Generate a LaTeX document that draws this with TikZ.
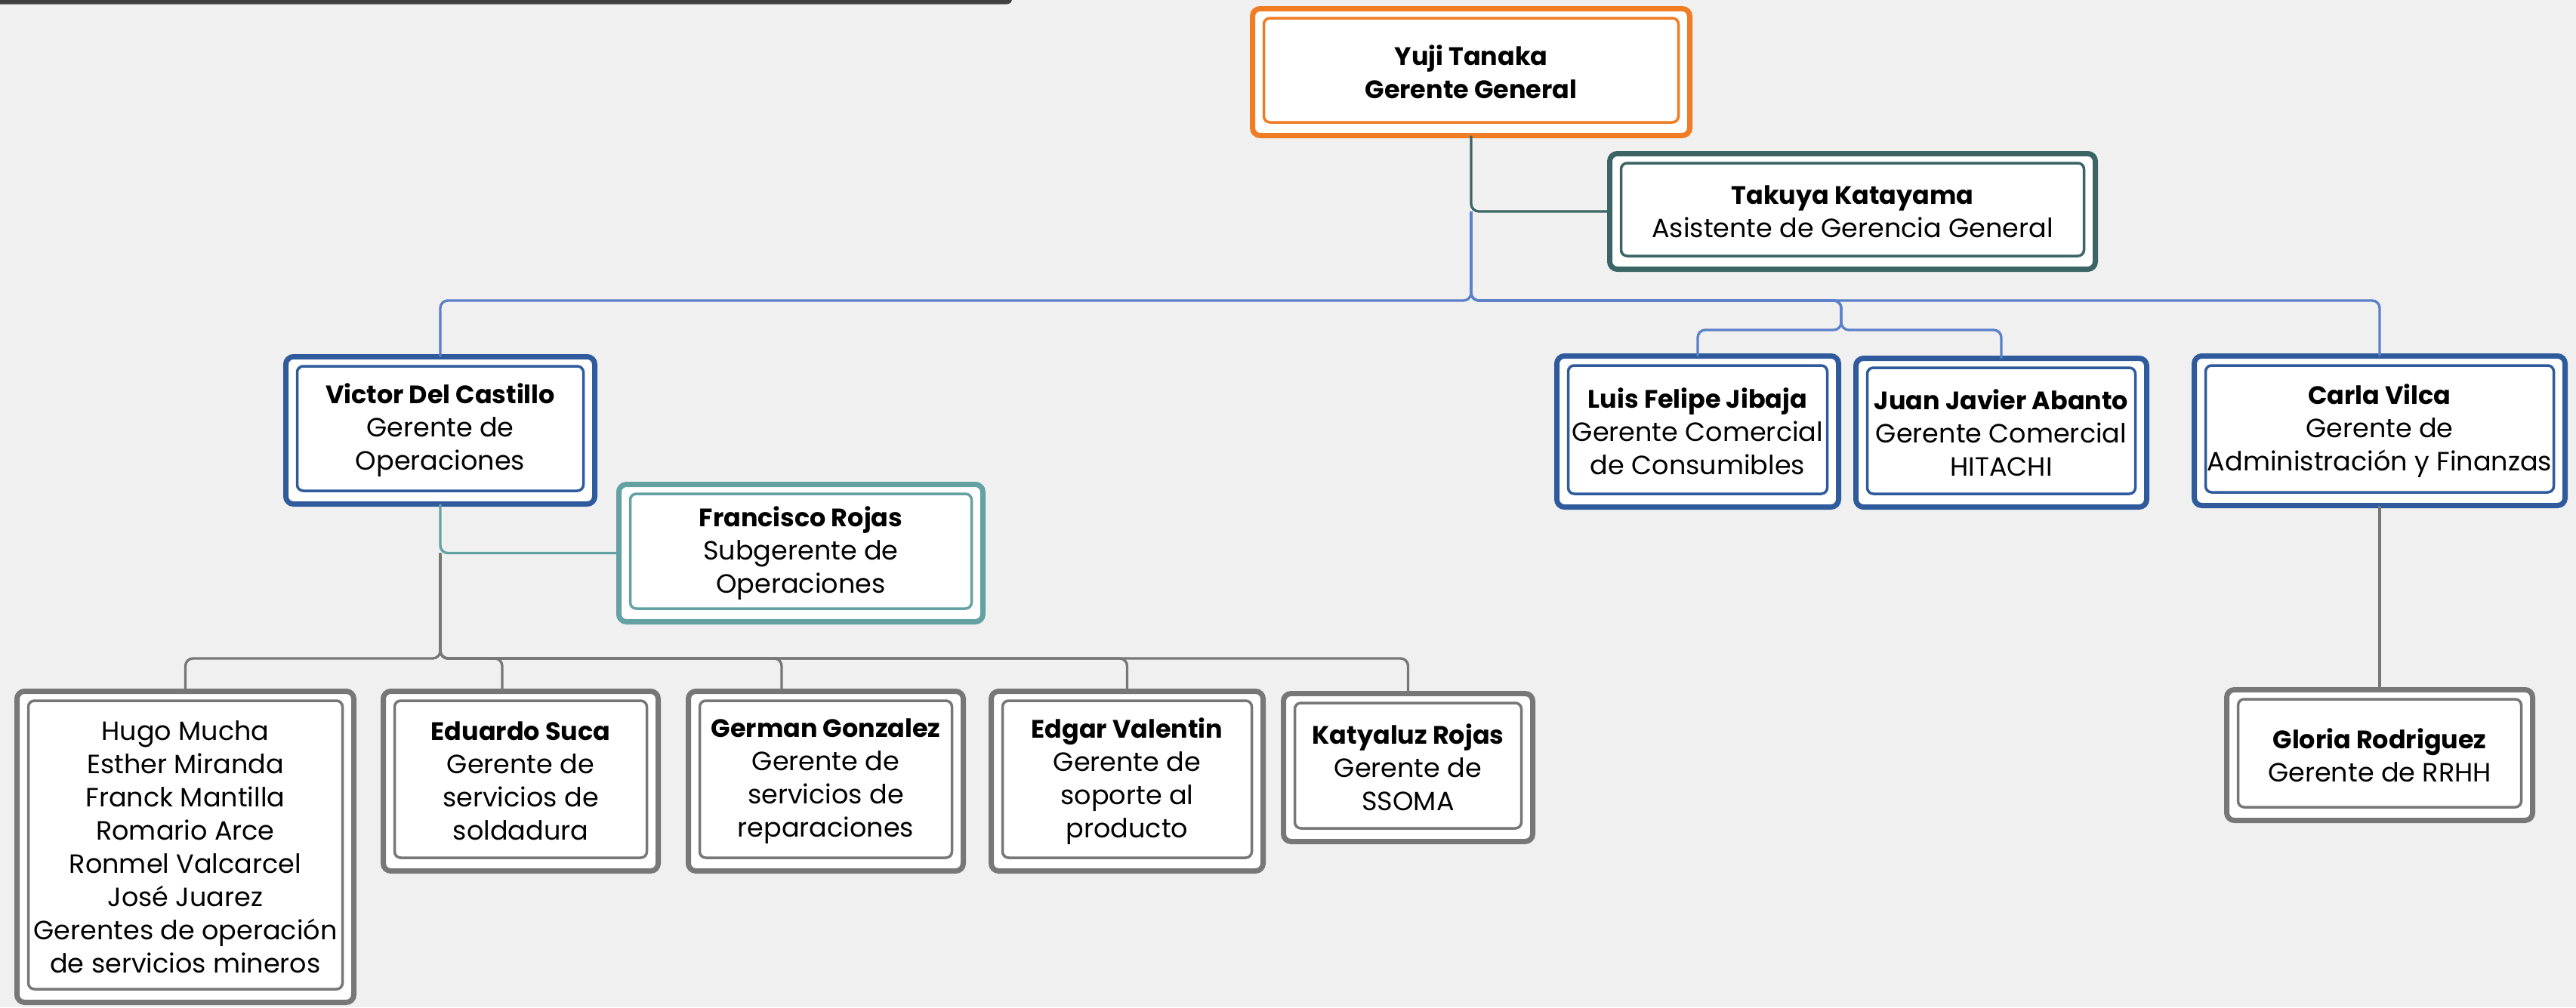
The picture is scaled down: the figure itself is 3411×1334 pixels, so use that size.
\documentclass[tikz,border=0pt]{standalone}
\usepackage{fontspec}
\setmainfont{Poppins}[BoldFeatures={Scale=0.955}]

\definecolor{bgC}{RGB}{240,240,240}
\definecolor{barC}{RGB}{64,64,64}
\definecolor{orangeC}{RGB}{240,124,36}
\definecolor{tealD}{RGB}{59,100,100}
\definecolor{tealL}{RGB}{99,161,163}
\definecolor{blueD}{RGB}{47,91,157}
\definecolor{blueL}{RGB}{91,127,200}
\definecolor{grayC}{RGB}{119,119,119}

\tikzset{every picture/.style={line width=1pt},
  orgbox/.style={draw=#1, line width=2.1pt, fill=white, rounded corners=3pt,
    inner sep=0pt, outer sep=0pt, align=center,
    font=\fontsize{10.5}{13.2}\selectfont},
  inframe/.style={draw=#1, line width=1.05pt, rounded corners=2.4pt},
  orgline/.style={draw=#1, line width=1pt, rounded corners=3pt}}

\begin{document}
\begin{tikzpicture}[x=0.3pt,y=0.3pt,yscale=-1]
%set diagram area to 3411 x 1334
\fill[bgC] (0,0) rectangle (3411,1334);
\useasboundingbox (0,0) rectangle (3411,1334);
%Top bar
\fill[barC, rounded corners=2pt] (-30,-30) rectangle (1340,5.5);

% Text Node
\draw (1948,95.5) node [orgbox=orangeC, minimum width=173.7pt, minimum height=50.4pt] (yuji) {\textbf{Yuji Tanaka}\\\textbf{Gerente General}};
% Text Node
\draw (2453,280) node [orgbox=tealD, minimum width=192.9pt, minimum height=45.9pt] (takuya) {\textbf{Takuya Katayama}\\Asistente de Gerencia General};
% Text Node
\draw (583,570) node [orgbox=blueD, minimum width=122.7pt, minimum height=58.5pt] (victor) {\textbf{Victor Del Castillo}\\Gerente de\\Operaciones};
% Text Node
\draw (1060.5,732.5) node [orgbox=tealL, minimum width=144.6pt, minimum height=54.6pt] (francisco) {\textbf{Francisco Rojas}\\Subgerente de\\Operaciones};
% Text Node
\draw (2248,571.5) node [orgbox=blueD, minimum width=111.9pt, minimum height=60pt] (luis) {\textbf{Luis Felipe Jibaja}\\Gerente Comercial\\de Consumibles};
% Text Node
\draw (2650,573) node [orgbox=blueD, minimum width=115.5pt, minimum height=59.1pt] (juan) {\textbf{Juan Javier Abanto}\\Gerente Comercial\\HITACHI};
% Text Node
\draw (3151,570.5) node [orgbox=blueD, minimum width=147.3pt, minimum height=59.4pt] (carla) {\textbf{Carla Vilca}\\Gerente de\\Administración y Finanzas};
% Text Node
\draw (245.5,1121.5) node [orgbox=grayC, minimum width=133.8pt, minimum height=123.6pt] (hugo) {Hugo Mucha\\Esther Miranda\\Franck Mantilla\\Romario Arce\\Ronmel Valcarcel\\José Juarez\\Gerentes de operación\\de servicios mineros};
% Text Node
\draw (689.5,1034.5) node [orgbox=grayC, minimum width=109.2pt, minimum height=71.4pt] (eduardo) {\textbf{Eduardo Suca}\\Gerente de\\servicios de\\soldadura};
% Text Node
\draw (1093.5,1034.5) node [orgbox=grayC, minimum width=109.2pt, minimum height=71.4pt] (german) {\textbf{German Gonzalez}\\Gerente de\\servicios de\\reparaciones};
% Text Node
\draw (1492.5,1034.5) node [orgbox=grayC, minimum width=108pt, minimum height=71.4pt] (edgar) {\textbf{Edgar Valentin}\\Gerente de\\soporte al\\producto};
% Text Node
\draw (1864.5,1016.5) node [orgbox=grayC, minimum width=99pt, minimum height=58.8pt] (katya) {\textbf{Katyaluz Rojas}\\Gerente de\\SSOMA};
% Text Node
\draw (3151,1000) node [orgbox=grayC, minimum width=121.5pt, minimum height=51.9pt] (gloria) {\textbf{Gloria Rodriguez}\\Gerente de RRHH};

%Inner frames
\foreach \n/\c in {yuji/orangeC, takuya/tealD, victor/blueD, francisco/tealL, luis/blueD, juan/blueD, carla/blueD, hugo/grayC, eduardo/grayC, german/grayC, edgar/grayC, katya/grayC, gloria/grayC}
  \draw[inframe=\c] ([shift={(15,12.5)}]\n.north west) rectangle ([shift={(-15,-17.5)}]\n.south east);

%Straight Lines
\coordinate (gg) at (yuji.south |- takuya.west);
\coordinate (topbus) at (1948,398);
\coordinate (combus) at (2438,437);
\draw[orgline=tealD] (yuji.south) |- (takuya.west);
\draw[orgline=blueL] (gg) -- (topbus) -| (victor.north);
\draw[orgline=blueL] (gg) -- (topbus) -| (carla.north);
\draw[orgline=blueL] (gg) -- (topbus) -| (combus) -| (luis.north);
\draw[orgline=blueL] (gg) -- (topbus) -| (combus) -| (juan.north);
\draw[orgline=grayC] (carla.south) -- (gloria.north);

%Straight Lines
\coordinate (vf) at (victor.south |- francisco.west);
\coordinate (opbus) at (583,872);
\draw[orgline=tealL] (victor.south) |- (francisco.west);
\draw[orgline=grayC] (vf) -- (opbus) -| (hugo.north);
\draw[orgline=grayC] (vf) -- (opbus) -| ([xshift=-7.35pt]eduardo.north);
\draw[orgline=grayC] (vf) -- (opbus) -| ([xshift=-17.55pt]german.north);
\draw[orgline=grayC] (vf) -- (opbus) -| (edgar.north);
\draw[orgline=grayC] (vf) -- (opbus) -| (katya.north);

\end{tikzpicture}
\end{document}
